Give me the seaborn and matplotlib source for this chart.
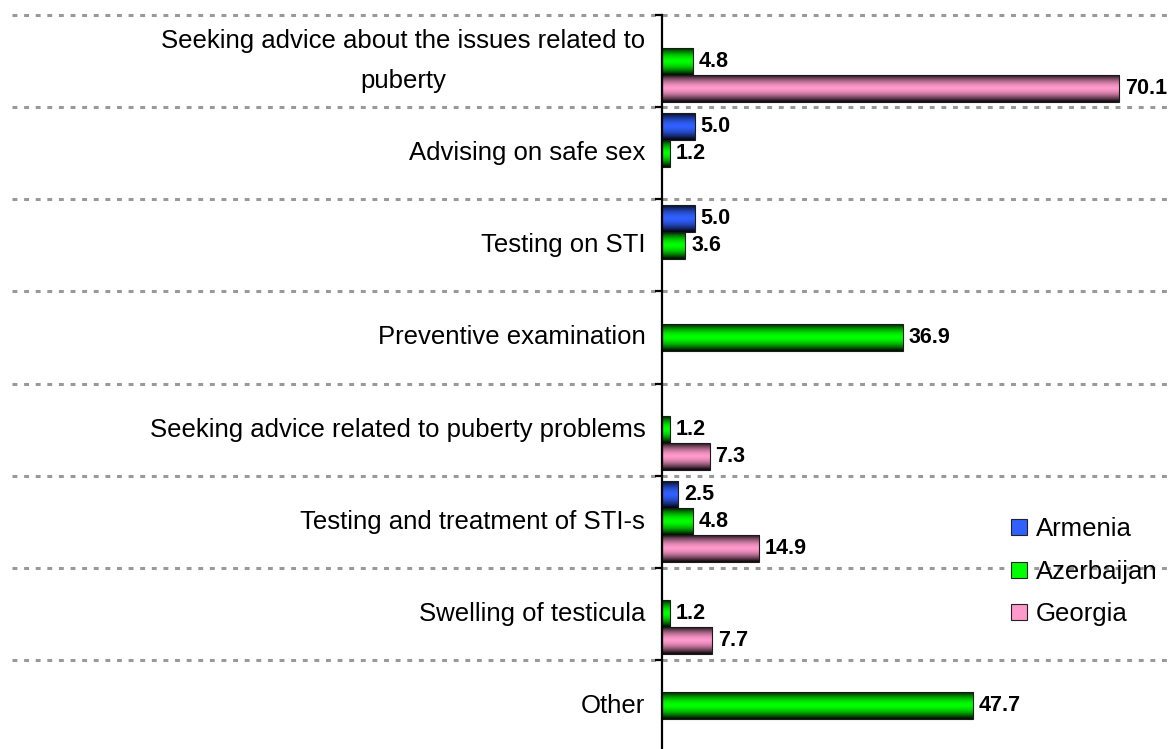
import numpy as np
import pandas as pd
import matplotlib
matplotlib.use("Agg")
import matplotlib.pyplot as plt
import matplotlib.transforms as mtransforms
from matplotlib.patches import Patch
import seaborn as sns

categories = [
    "Seeking advice about the issues related to\npuberty",
    "Advising on safe sex",
    "Testing on STI",
    "Preventive examination",
    "Seeking advice related to puberty problems",
    "Testing and treatment of STI-s",
    "Swelling of testicula",
    "Other",
]
countries = ["Armenia", "Azerbaijan", "Georgia"]
armenia = [np.nan, 5.0, 5.0, np.nan, np.nan, 2.5, np.nan, np.nan]
azerbaijan = [4.8, 1.2, 3.6, 36.9, 1.2, 4.8, 1.2, 47.7]
georgia = [70.1, np.nan, np.nan, np.nan, 7.3, 14.9, 7.7, np.nan]
colors = ["#3060FF", "#00FF00", "#FF99CC"]

rows = []
for c, vals in zip(countries, [armenia, azerbaijan, georgia]):
    for cat, v in zip(categories, vals):
        rows.append({"category": cat, "country": c, "value": v})
df = pd.DataFrame(rows).dropna()

sns.set_style("white")
plt.rcParams["font.family"] = ["Liberation Sans", "DejaVu Sans"]
plt.rcParams["text.color"] = "black"
plt.rcParams["ytick.color"] = "black"
plt.rcParams["ytick.labelcolor"] = "black"

fig = plt.figure(figsize=(11.71, 7.49), dpi=100)
top = 1 - 15 / 749
bottom = 1 - 752 / 749
left = 662 / 1171
ax = fig.add_axes([left, bottom, 1 - left, top - bottom])

sns.barplot(data=df, y="category", x="value", hue="country", order=categories,
            hue_order=countries, palette=colors, orient="h", width=0.88,
            errorbar=None, ax=ax, legend=False, saturation=1)

xlim = (0, 78)
ylim = (len(categories) - 0.5, -0.5)


def gradient(col):
    t = np.linspace(0, 1, 64)
    f = np.clip(1.0 - np.abs(2 * t - 1) ** 1.7, 0.08, 1.0)
    rgb = np.array(matplotlib.colors.to_rgb(col))
    return (f[:, None] * rgb[None, :])[:, None, :]


for container, col in zip(ax.containers, colors):
    grad = gradient(col)
    for p in container:
        x0, y0 = p.get_x(), p.get_y()
        w, h = p.get_width(), p.get_height()
        if not np.isfinite(w) or w <= 0:
            continue
        im = ax.imshow(grad, extent=[x0, x0 + w, y0 + h, y0], aspect="auto",
                       interpolation="bilinear", zorder=2)
        im.set_clip_path(p)
        p.set_facecolor("none")
        p.set_edgecolor("#1a1a1a")
        p.set_linewidth(0.8)
        p.set_zorder(3)
    ax.bar_label(container, fmt="%.1f", padding=4, fontsize=15.5,
                 fontweight="bold", color="black", zorder=4)

ax.set_xlim(*xlim)
ax.set_ylim(*ylim)

# dashed separators spanning the whole figure width
trans = mtransforms.blended_transform_factory(fig.transFigure, ax.transData)
for b in np.arange(-0.5, len(categories), 1.0):
    ax.plot([12 / 1171, 1.0], [b, b], transform=trans, clip_on=False,
            color="#999999", lw=2.2, dashes=(1.6, 2.2), zorder=0)

for s in ["top", "right", "bottom"]:
    ax.spines[s].set_visible(False)
ax.spines["left"].set_color("black")
ax.spines["left"].set_linewidth(1.6)
ax.spines["left"].set_zorder(5)

ax.set_yticks(range(len(categories)))
ax.set_yticklabels(categories, fontsize=18.5, linespacing=1.88,
                   multialignment="center", va="center", color="black")
ax.set_yticks(np.arange(-0.5, len(categories), 1.0), minor=True)
ax.tick_params(axis="y", which="major", length=0, pad=12)
ax.tick_params(axis="y", which="minor", length=5, width=1.6, color="black",
               direction="out", left=True)
ax.set_xticks([])
ax.set_xlabel("")
ax.set_ylabel("")

handles = [Patch(facecolor=c, edgecolor="#222222", linewidth=0.8) for c in colors]
leg = ax.legend(handles, countries, loc="upper left", frameon=False, fontsize=18.5,
                bbox_to_anchor=(1001 / 1171, 1 - 507 / 749),
                bbox_transform=fig.transFigure, handlelength=0.6,
                handleheight=0.6, handletextpad=0.35, labelspacing=0.72,
                borderaxespad=0, labelcolor="black")

fig.savefig("out.png", dpi=100)
